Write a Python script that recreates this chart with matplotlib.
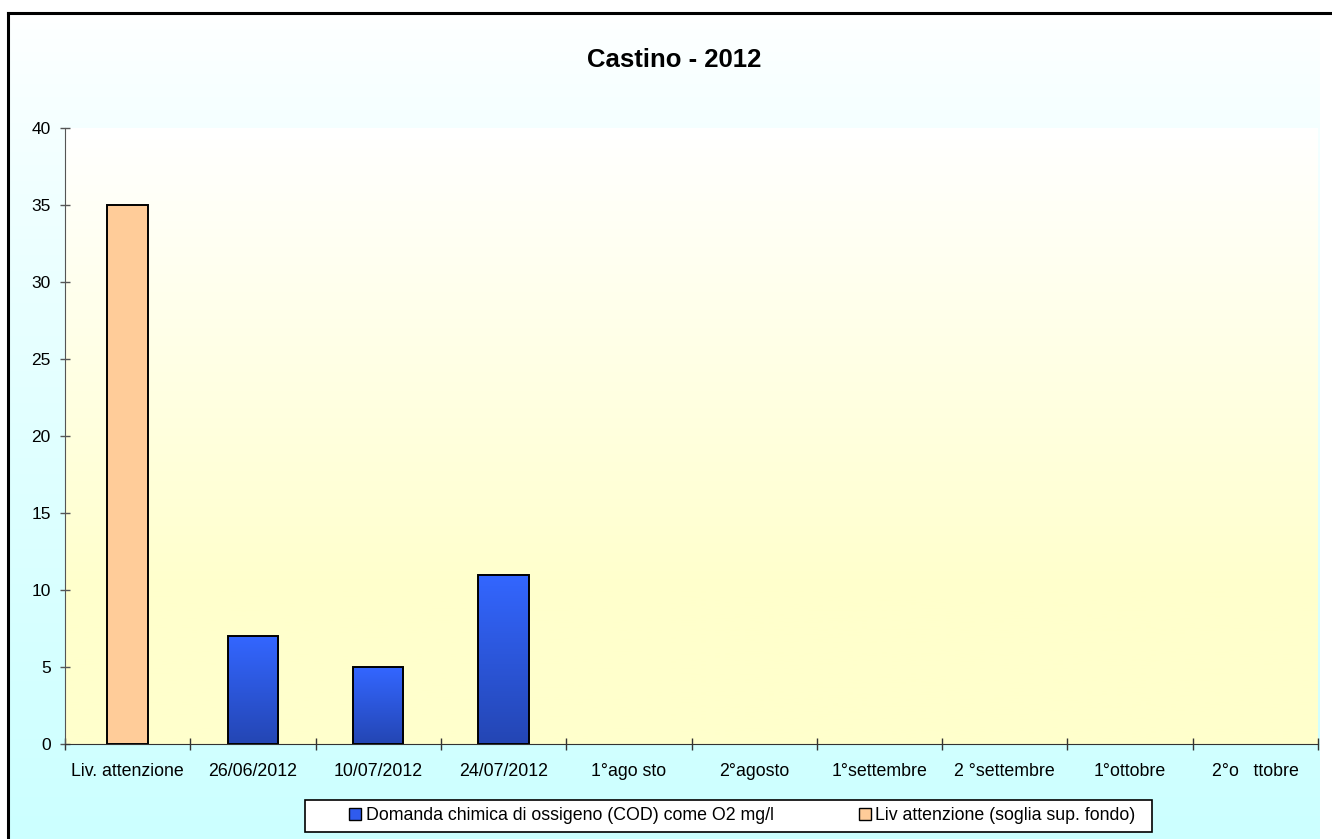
import numpy as np
import matplotlib
matplotlib.use("Agg")
import matplotlib.pyplot as plt
from matplotlib.colors import LinearSegmentedColormap
from matplotlib.patches import Patch, Rectangle
from matplotlib.lines import Line2D

plt.rcParams['font.family'] = ['Liberation Sans', 'DejaVu Sans']

# data
categories = ["Liv. attenzione", "26/06/2012", "10/07/2012", "24/07/2012",
              "1°ago sto", "2°agosto", "1°settembre", "2 °settembre",
              "1°ottobre", "2°o   ttobre"]
cod_values = [np.nan, 7, 5, 11, np.nan, np.nan, np.nan, np.nan, np.nan, np.nan]
soglia_values = [35, np.nan, np.nan, np.nan, np.nan, np.nan, np.nan, np.nan, np.nan, np.nan]
cod_label = "Domanda chimica di ossigeno (COD) come O2 mg/l"
soglia_label = "Liv attenzione (soglia sup. fondo)"
title = "Castino - 2012"

W, H = 1332, 839
fig = plt.figure(figsize=(W / 100, H / 100), dpi=100)
fig.patch.set_facecolor("white")

# chart area background: white -> light cyan
bg = fig.add_axes([8 / W, 0, (1320 - 8) / W, 1 - 13 / H], zorder=-10)
bg_cmap = LinearSegmentedColormap.from_list("bg", ["#FFFFFF", "#CCFFFF"])
grad = np.linspace(0, 1, 256).reshape(-1, 1) ** 0.8
bg.imshow(grad, aspect="auto", cmap=bg_cmap, extent=[0, 1, 1, 0], vmin=0, vmax=1)
bg.set_axis_off()

# outer border (top + left visible)
fig.add_artist(Line2D([8 / W, 1], [1 - 13 / H, 1 - 13 / H], color="black", lw=2.2,
                      transform=fig.transFigure))
fig.add_artist(Line2D([8 / W, 8 / W], [0, 1 - 13 / H], color="black", lw=2.2,
                      transform=fig.transFigure))

ax = fig.add_axes([65 / W, 1 - 744 / H, (1318 - 65) / W, (744 - 128) / H])
ax.set_facecolor("none")

n = len(categories)
x = np.arange(n)

# plot area gradient: white -> pale yellow
pa_cmap = LinearSegmentedColormap.from_list("pa", ["#FFFFFF", "#FFFFCC"])
g = np.clip(np.linspace(0, 1, 256) / 0.75, 0, 1).reshape(-1, 1)
ax.imshow(g, aspect="auto", cmap=pa_cmap, extent=[-0.5, n - 0.5, 0, 40],
          vmin=0, vmax=1, zorder=0)

# bars
blue_cmap = LinearSegmentedColormap.from_list("blue", ["#3366FF", "#2446B4"])
cod_bars = ax.bar(x, cod_values, width=0.40, facecolor="none", edgecolor="black",
                  linewidth=1.4, zorder=3)
for b in cod_bars:
    if np.isnan(b.get_height()):
        continue
    ax.imshow(np.linspace(0, 1, 100).reshape(-1, 1), aspect="auto", cmap=blue_cmap,
              extent=[b.get_x(), b.get_x() + b.get_width(), 0, b.get_height()],
              zorder=2)
ax.bar(x, soglia_values, width=0.33, color="#FFCC99", edgecolor="black",
       linewidth=1.4, zorder=3)
ax.set_xlim(-0.5, n - 0.5)
ax.set_ylim(0, 40)

# axes styling
for s in ["top", "right"]:
    ax.spines[s].set_visible(False)
ax.spines["left"].set_color("#555555")
ax.spines["bottom"].set_color("#333333")
ax.set_yticks(np.arange(0, 41, 5))
ax.tick_params(axis="y", direction="inout", length=7.5, width=1, color="#555555",
               labelsize=12.5, pad=6.5)
ax.set_xticks(np.arange(-0.5, n, 1.0))
ax.set_xticklabels([])
ax.set_xticks(x, minor=True)
ax.set_xticklabels(categories, minor=True)
ax.tick_params(axis="x", which="major", direction="inout", length=8.5, width=1,
               color="#333333")
ax.tick_params(axis="x", which="minor", length=0, labelsize=12.8, pad=13.5)

fig.text(674 / W, 1 - 60 / H, title, ha="center", va="center", fontsize=18.5,
         fontweight="bold")

# legend: box drawn separately, entries placed inside it
fig.add_artist(Rectangle((305 / W, 1 - 832 / H), (1152 - 305) / W, 32 / H,
                         transform=fig.transFigure, facecolor="white",
                         edgecolor="black", linewidth=1.2, zorder=5))
handles = [Patch(facecolor="#2F5BEE", edgecolor="black", linewidth=1),
           Patch(facecolor="#FFCC99", edgecolor="black", linewidth=1)]
leg = fig.legend(handles, [cod_label, soglia_label], loc="center left",
                 bbox_to_anchor=(349 / W, 1 - 816 / H), ncol=2, fontsize=12.8,
                 frameon=False, handlelength=0.68, handleheight=0.68,
                 handletextpad=0.25, columnspacing=4.8, borderpad=0,
                 borderaxespad=0)
leg.set_zorder(6)

fig.savefig("out.png", dpi=100)
